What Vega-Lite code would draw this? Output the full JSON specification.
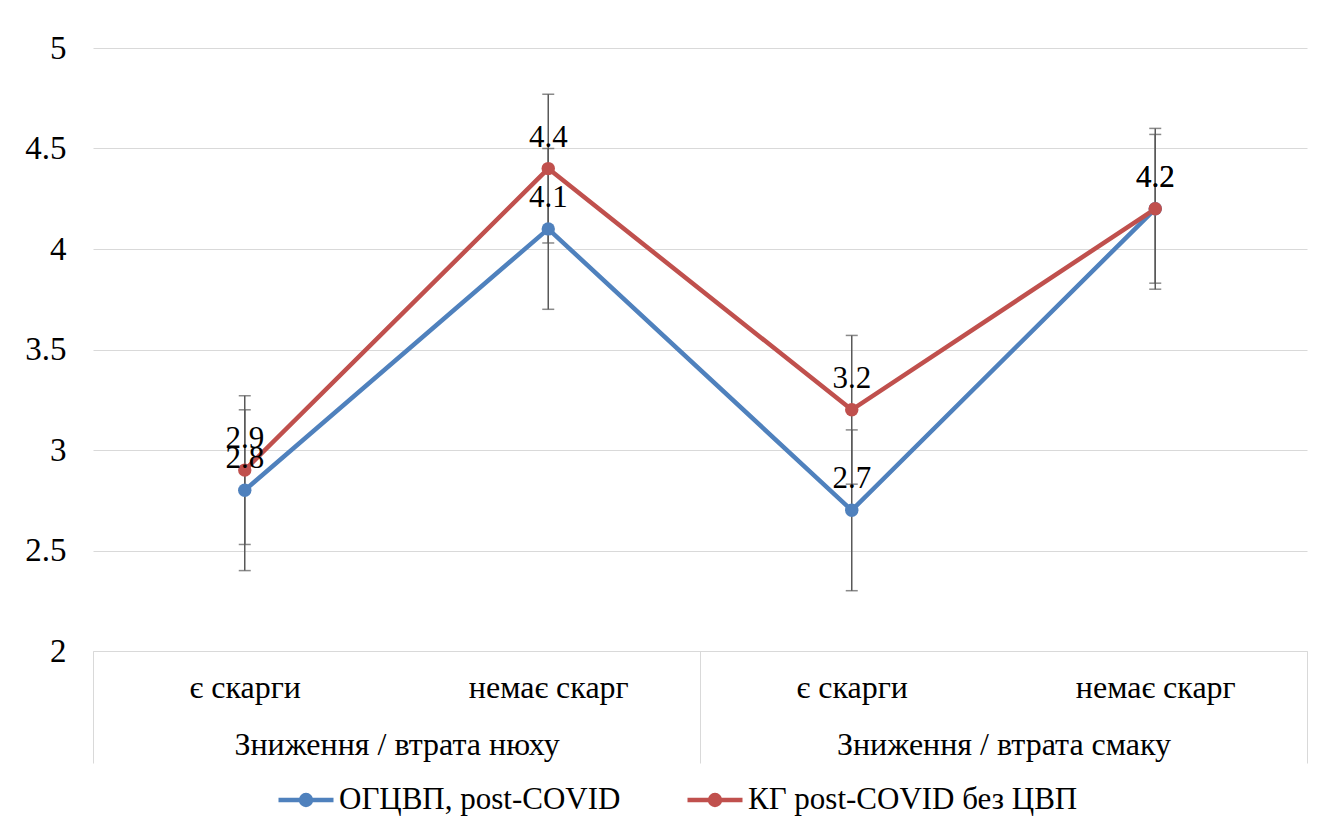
{
  "$schema": "https://vega.github.io/schema/vega-lite/v6.json",
  "width": 1214,
  "height": 603,
  "autosize": {"type": "none"},
  "padding": {"left": 93, "top": 48, "right": 18, "bottom": 180},
  "background": "white",
  "config": {
    "view": {"stroke": null},
    "font": "Liberation Serif"
  },
  "data": {
    "values": [
      {"category": "нюх: є скарги", "series": "ОГЦВП, post-COVID", "mean": 2.8, "sd": 0.4},
      {"category": "нюх: немає скарг", "series": "ОГЦВП, post-COVID", "mean": 4.1, "sd": 0.4},
      {"category": "смак: є скарги", "series": "ОГЦВП, post-COVID", "mean": 2.7, "sd": 0.4},
      {"category": "смак: немає скарг", "series": "ОГЦВП, post-COVID", "mean": 4.2, "sd": 0.4},
      {"category": "нюх: є скарги", "series": "КГ post-COVID без ЦВП", "mean": 2.9, "sd": 0.37},
      {"category": "нюх: немає скарг", "series": "КГ post-COVID без ЦВП", "mean": 4.4, "sd": 0.37},
      {"category": "смак: є скарги", "series": "КГ post-COVID без ЦВП", "mean": 3.2, "sd": 0.37},
      {"category": "смак: немає скарг", "series": "КГ post-COVID без ЦВП", "mean": 4.2, "sd": 0.37}
    ]
  },
  "encoding": {
    "x": {
      "field": "category",
      "type": "nominal",
      "sort": null,
      "scale": {
        "type": "point",
        "padding": 0,
        "domain": ["sep0", "нюх: є скарги", "Зниження / втрата нюху", "нюх: немає скарг", "sep1", "смак: є скарги", "Зниження / втрата смаку", "смак: немає скарг", "sep2"]
      },
      "axis": {
        "title": null,
        "grid": false,
        "domainColor": "#d9d9d9",
        "domainWidth": 1,
        "tickColor": "#d9d9d9",
        "tickWidth": 1,
        "tickSize": 112,
        "tickOpacity": {"condition": {"test": "indexof(datum.value,'sep')==0", "value": 1}, "value": 0},
        "labelPadding": {"condition": {"test": "indexof(datum.value,'Зниження')==0", "value": -34}, "value": -91},
        "labelExpr": "indexof(datum.value,'sep')==0 ? '' : (indexof(datum.value,': ')>0 ? split(datum.value,': ')[1] : datum.value)",
        "labelFont": "Liberation Serif",
        "labelFontSize": 32,
        "labelColor": "#000000",
        "labelOverlap": false,
        "labelBound": false,
        "labelFlush": false,
        "labelLimit": 0,
        "labelAngle": 0,
        "labelBaseline": "top"
      }
    },
    "y": {
      "field": "mean",
      "type": "quantitative",
      "scale": {"domain": [2, 5], "nice": false, "zero": false},
      "axis": {
        "title": null,
        "values": [2, 2.5, 3, 3.5, 4, 4.5, 5],
        "labelExpr": "'' + datum.value",
        "domain": false,
        "ticks": false,
        "grid": true,
        "gridColor": "#d9d9d9",
        "gridWidth": 1,
        "labelPadding": 27,
        "labelFont": "Liberation Serif",
        "labelFontSize": 33,
        "labelColor": "#000000"
      }
    }
  },
  "layer": [
    {
      "mark": {"type": "line", "strokeWidth": 4.5},
      "encoding": {
        "color": {
          "field": "series",
          "type": "nominal",
          "sort": null,
          "scale": {"domain": ["ОГЦВП, post-COVID", "КГ post-COVID без ЦВП"], "range": ["#4F81BD", "#C0504D"]},
          "legend": {
            "title": null,
            "orient": "none",
            "legendX": 183,
            "legendY": 722,
            "direction": "horizontal",
            "padding": 0,
            "columnPadding": 57,
            "symbolType": "M-1,0H1M0.18,0A0.18,0.18 0 1,1 -0.18,0A0.18,0.18 0 1,1 0.18,0Z",
            "symbolSize": 3025,
            "symbolStrokeWidth": 4.5,
            "labelOffset": 3,
            "labelFont": "Liberation Serif",
            "labelFontSize": 31,
            "labelColor": "#000000",
            "labelLimit": 0,
            "encode": {
              "symbols": {
                "update": {
                  "fill": {"scale": "color", "field": "value"},
                  "stroke": {"scale": "color", "field": "value"},
                  "fillOpacity": {"value": 1},
                  "strokeOpacity": {"value": 1}
                }
              }
            }
          }
        }
      }
    },
    {
      "mark": {"type": "errorbar", "ticks": {"size": 12}, "color": "#595959", "thickness": 1.5},
      "encoding": {
        "y": {"field": "mean", "type": "quantitative"},
        "yError": {"field": "sd"},
        "detail": {"field": "series", "type": "nominal"}
      }
    },
    {
      "mark": {"type": "point", "filled": true, "opacity": 1, "size": 180},
      "encoding": {
        "color": {"field": "series", "type": "nominal", "sort": null}
      }
    },
    {
      "mark": {"type": "text", "font": "Liberation Serif", "fontSize": 31, "color": "#000000", "baseline": "alphabetic", "dy": -22},
      "encoding": {
        "text": {"field": "mean", "type": "quantitative", "format": ".1f"}
      }
    }
  ]
}
